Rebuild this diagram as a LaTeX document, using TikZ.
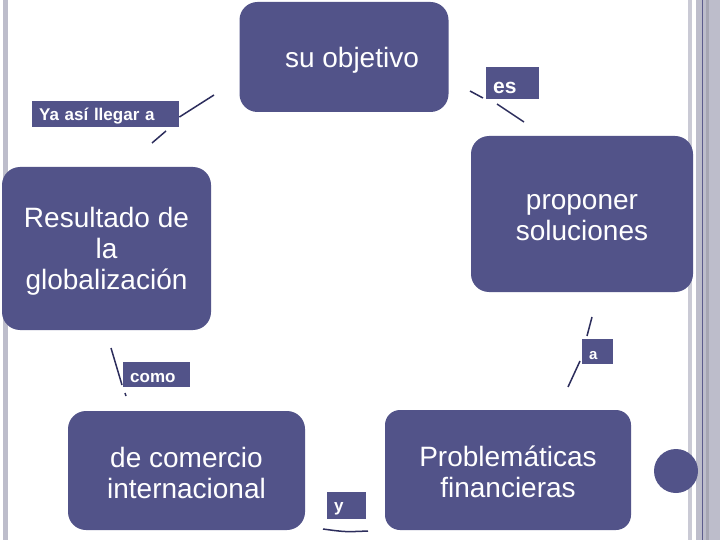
\documentclass[tikz,border=0pt]{standalone}
\usepackage{fontspec}
\setmainfont{Liberation Sans}
\definecolor{boxblue}{RGB}{82,83,137}
\definecolor{linkblue}{RGB}{44,45,92}
\definecolor{edgegray}{RGB}{189,189,203}
\definecolor{edgeline}{RGB}{92,92,140}
\tikzset{
	bigbox/.style={fill=boxblue, rounded corners=18pt, inner sep=0pt},
	boxtext/.style={text=white, align=center, inner sep=0pt, font=\fontsize{28}{31}\selectfont},
	tagbox/.style={fill=boxblue, text=white, anchor=north west, inner xsep=7pt, inner ysep=0pt, align=left, font=\bfseries\fontsize{17}{19}\selectfont},
	link/.style={draw=linkblue, line width=1.5pt}
}
\begin{document}
\begin{tikzpicture}[x=1pt, y=-1pt]
		\useasboundingbox (0,0) rectangle (720,540);
		\fill [white] (0,0) rectangle (720,540);

		\fill [edgegray] (3,0) rectangle (8,540);
		\fill [edgegray!80!white] (688,0) rectangle (692,540);
		\fill [edgegray] (696,0) rectangle (720,540);
		\fill [edgegray!88!black] (706,0) rectangle (709,540);
		\draw [edgeline, line width=1pt] (702,0) -- (702,540);

		\node [bigbox, minimum width=209pt, minimum height=110pt] (objetivo) at (344,57) {};
		\node [bigbox, minimum width=222pt, minimum height=156pt] (proponer) at (582,214) {};
		\node [bigbox, minimum width=209pt, minimum height=163pt] (resultado) at (106.5,248.5) {};
		\node [bigbox, minimum width=237pt, minimum height=119pt] (comercio) at (186.5,470.5) {};
		\node [bigbox, minimum width=246pt, minimum height=120pt, rounded corners=15pt] (problemas) at (508,470) {};
		\fill [boxblue] (676,471) circle (22pt);

		\node [boxtext] (objetivo text) at ([xshift=8pt, yshift=-3pt]objetivo.center) {su objetivo};
		\node [boxtext] (proponer text) at ([yshift=-3.5pt]proponer.center) {proponer\\soluciones};
		\node [boxtext] (resultado text) at ([yshift=-3pt]resultado.center) {Resultado de\\la\\globalización};
		\node [boxtext] (comercio text) at ([yshift=-2pt]comercio.center) {de comercio\\internacional};
		\node [boxtext] (problemas text) at ([yshift=-2pt]problemas.center) {Problemáticas\\financieras};

		\node [tagbox, text width=133pt, text height=19.5pt, text depth=6.5pt] (llegar) at (32,101) {Ya así llegar a};
		\node [tagbox, text width=39pt, text height=26pt, text depth=6pt, font=\bfseries\fontsize{21}{23}\selectfont] (es) at (486,67) {es};
		\node [tagbox, text width=17pt, text height=20pt, text depth=5pt, font=\bfseries\fontsize{15}{17}\selectfont] (a) at (582,339) {a};
		\node [tagbox, text width=53pt, text height=20pt, text depth=5pt] (como) at (123,362) {como};
		\node [tagbox, text width=25pt, text height=19pt, text depth=8pt] (y) at (327,492) {y};

		\coordinate (c1) at (214,95);
		\coordinate (c2) at (152,143);
		\coordinate (c3) at (470,91);
		\coordinate (c4) at (524,122);
		\coordinate (c5) at (592,317);
		\coordinate (c6) at (568,387);
		\coordinate (c7) at (111,348);
		\coordinate (c8) at (126,396);
		\coordinate (c9) at (323,529);
		\coordinate (c10) at (368,531);

		\draw [link] (c1) -- (llegar.east |- 0,117);
		\draw [link] (c2) -- (166,131);
		\draw [link] (c3) -- (483,98);
		\draw [link] (497,104) -- (c4);
		\draw [link] (c5) -- (587,336);
		\draw [link] (580,361) -- (c6);
		\draw [link] (c7) -- (122,385);
		\draw [link] (125,393) -- (c8);
		\draw [link] (c9) .. controls (345,532) .. (c10);

		\end{tikzpicture}
\end{document}
